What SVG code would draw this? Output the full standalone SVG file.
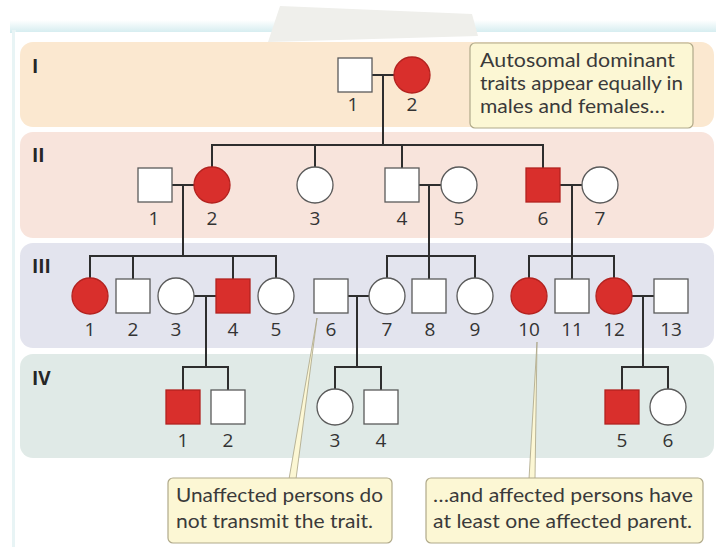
<svg xmlns="http://www.w3.org/2000/svg" width="716" height="547" viewBox="0 0 716 547">
  <defs>
    <linearGradient id="pageGlow" x1="0" y1="0" x2="0" y2="1">
      <stop offset="0" stop-color="#ffffff"/>
      <stop offset="1" stop-color="#d3ecef"/>
    </linearGradient>
    <style>
      .male { stroke: #5a5a5a; stroke-width: 1.3; fill: #ffffff; }
      .female { stroke: #5a5a5a; stroke-width: 1.3; fill: #ffffff; }
      .affected { fill: #d92f2c; stroke: #b3221f; }
      .num { font-family: "Open Sans", "Noto Sans", sans-serif; font-size: 19px; fill: #333333; text-anchor: middle; }
      .gen { font-family: "Open Sans", "Noto Sans", sans-serif; font-size: 19px; font-weight: bold; fill: #262626; }
      .line { stroke: #2e2e2e; stroke-width: 2; fill: none; stroke-linecap: square; }
      .note { fill: #fcf7d4; stroke: #b0a98a; stroke-width: 1.2; }
      .noteText { font-family: Lato, "Open Sans", sans-serif; font-size: 19px; fill: #3a3a3a; }
      .pointer { fill: #fcf7d4; stroke: #a9a385; stroke-width: 0.8; }
    </style>
  </defs>

  <!-- page -->
  <rect x="0" y="0" width="716" height="547" fill="#ffffff"/>
  <rect x="10" y="20" width="706" height="13" fill="url(#pageGlow)"/>
  <rect x="12" y="30" width="4" height="517" fill="#e8f4f5"/>
  <rect x="15" y="32" width="701" height="515" fill="#ffffff"/>
  <polygon points="280,6 472,14 478,36 268,42" fill="#efefeb"/>

  <!-- generation bands -->
  <g id="bands">
    <rect x="20" y="42" width="694" height="85" rx="13" fill="#fbe8d0"/>
    <rect x="20" y="132" width="694" height="106" rx="13" fill="#f8e4dc"/>
    <rect x="20" y="243" width="694" height="105" rx="13" fill="#e3e4ee"/>
    <rect x="20" y="354" width="694" height="104" rx="13" fill="#e0eae7"/>
    <text class="gen" x="32" y="73">I</text>
    <text class="gen" x="32" y="162">II</text>
    <text class="gen" x="32" y="273">III</text>
    <text class="gen" x="32" y="385">IV</text>
  </g>

  <!-- connectors -->
  <g id="connectors">
    <!-- generation I mating and descent -->
    <path class="line" d="M372,75 H394 M383,75 V145"/>
    <!-- generation II sibship -->
    <path class="line" d="M212,145 H543 M212,145 V167 M315,145 V167 M402,145 V168 M543,145 V168"/>
    <!-- generation II matings and descents -->
    <path class="line" d="M172,185 H194 M183,185 V256"/>
    <path class="line" d="M419,185 H441 M429,185 V256"/>
    <path class="line" d="M560,185 H582 M572,185 V256"/>
    <!-- generation III sibships -->
    <path class="line" d="M90,256 H276 M90,256 V278 M133,256 V279 M233,256 V279 M276,256 V278"/>
    <path class="line" d="M387,256 H475 M387,256 V278 M429,256 V279 M475,256 V278"/>
    <path class="line" d="M529,256 H614 M529,256 V278 M572,256 V279 M614,256 V278"/>
    <!-- generation III matings and descents -->
    <path class="line" d="M194,296 H216 M206,296 V367"/>
    <path class="line" d="M348,296 H369 M357,296 V367"/>
    <path class="line" d="M632,296 H654 M643,296 V367"/>
    <!-- generation IV sibships -->
    <path class="line" d="M183,367 H228 M183,367 V390 M228,367 V390"/>
    <path class="line" d="M335,367 H381 M335,367 V389 M381,367 V390"/>
    <path class="line" d="M622,367 H668 M622,367 V390 M668,367 V389"/>
  </g>

  <!-- generation I -->
  <g id="I-1"><rect class="male" x="338" y="58" width="34" height="34"/><text class="num" x="353" y="111">1</text></g>
  <g id="I-2"><circle class="female affected" cx="412" cy="75" r="18"/><text class="num" x="412" y="111">2</text></g>

  <!-- generation II -->
  <g id="II-1"><rect class="male" x="138" y="168" width="34" height="34"/><text class="num" x="154" y="225">1</text></g>
  <g id="II-2"><circle class="female affected" cx="212" cy="185" r="18"/><text class="num" x="212" y="225">2</text></g>
  <g id="II-3"><circle class="female" cx="315" cy="185" r="18"/><text class="num" x="315" y="225">3</text></g>
  <g id="II-4"><rect class="male" x="385" y="168" width="34" height="34"/><text class="num" x="402" y="225">4</text></g>
  <g id="II-5"><circle class="female" cx="459" cy="185" r="18"/><text class="num" x="459" y="225">5</text></g>
  <g id="II-6"><rect class="male affected" x="526" y="168" width="34" height="34"/><text class="num" x="543" y="225">6</text></g>
  <g id="II-7"><circle class="female" cx="600" cy="185" r="18"/><text class="num" x="600" y="225">7</text></g>

  <!-- generation III -->
  <g id="III-1"><circle class="female affected" cx="90" cy="296" r="18"/><text class="num" x="90" y="336">1</text></g>
  <g id="III-2"><rect class="male" x="116" y="279" width="34" height="34"/><text class="num" x="133" y="336">2</text></g>
  <g id="III-3"><circle class="female" cx="176" cy="296" r="18"/><text class="num" x="176" y="336">3</text></g>
  <g id="III-4"><rect class="male affected" x="216" y="279" width="34" height="34"/><text class="num" x="233" y="336">4</text></g>
  <g id="III-5"><circle class="female" cx="276" cy="296" r="18"/><text class="num" x="276" y="336">5</text></g>
  <g id="III-6"><rect class="male" x="314" y="279" width="34" height="34"/><text class="num" x="331" y="336">6</text></g>
  <g id="III-7"><circle class="female" cx="387" cy="296" r="18"/><text class="num" x="387" y="336">7</text></g>
  <g id="III-8"><rect class="male" x="412" y="279" width="34" height="34"/><text class="num" x="430" y="336">8</text></g>
  <g id="III-9"><circle class="female" cx="475" cy="296" r="18"/><text class="num" x="475" y="336">9</text></g>
  <g id="III-10"><circle class="female affected" cx="529" cy="296" r="18"/><text class="num" x="529" y="336">10</text></g>
  <g id="III-11"><rect class="male" x="555" y="279" width="34" height="34"/><text class="num" x="572" y="336">11</text></g>
  <g id="III-12"><circle class="female affected" cx="614" cy="296" r="18"/><text class="num" x="614" y="336">12</text></g>
  <g id="III-13"><rect class="male" x="654" y="279" width="34" height="34"/><text class="num" x="671" y="336">13</text></g>

  <!-- generation IV -->
  <g id="IV-1"><rect class="male affected" x="166" y="390" width="34" height="34"/><text class="num" x="183" y="447">1</text></g>
  <g id="IV-2"><rect class="male" x="211" y="390" width="34" height="34"/><text class="num" x="228" y="447">2</text></g>
  <g id="IV-3"><circle class="female" cx="335" cy="407" r="18"/><text class="num" x="335" y="447">3</text></g>
  <g id="IV-4"><rect class="male" x="364" y="390" width="34" height="34"/><text class="num" x="381" y="447">4</text></g>
  <g id="IV-5"><rect class="male affected" x="605" y="390" width="34" height="34"/><text class="num" x="622" y="447">5</text></g>
  <g id="IV-6"><circle class="female" cx="668" cy="407" r="18"/><text class="num" x="668" y="447">6</text></g>

  <!-- notes -->
  <g id="note-top">
    <rect class="note" x="470" y="43" width="223" height="85" rx="5"/>
    <text class="noteText" x="480" y="67" textLength="195" lengthAdjust="spacingAndGlyphs">Autosomal dominant</text>
    <text class="noteText" x="480" y="90" textLength="203" lengthAdjust="spacingAndGlyphs">traits appear equally in</text>
    <text class="noteText" x="480" y="113" textLength="185" lengthAdjust="spacingAndGlyphs">males and females…</text>
  </g>
  <g id="note-unaffected">
    <polygon class="pointer" points="317,318 296,479 289,479"/>
    <rect class="note" x="168" y="478" width="224" height="65" rx="5"/>
    <text class="noteText" x="176" y="502" textLength="207" lengthAdjust="spacingAndGlyphs">Unaffected persons do</text>
    <text class="noteText" x="176" y="528" textLength="197" lengthAdjust="spacingAndGlyphs">not transmit the trait.</text>
  </g>
  <g id="note-affected">
    <polygon class="pointer" points="537,342 535,479 529,479"/>
    <rect class="note" x="426" y="478" width="277" height="65" rx="5"/>
    <text class="noteText" x="433" y="502" textLength="260" lengthAdjust="spacingAndGlyphs">…and affected persons have</text>
    <text class="noteText" x="433" y="528" textLength="259" lengthAdjust="spacingAndGlyphs">at least one affected parent.</text>
  </g>
</svg>
